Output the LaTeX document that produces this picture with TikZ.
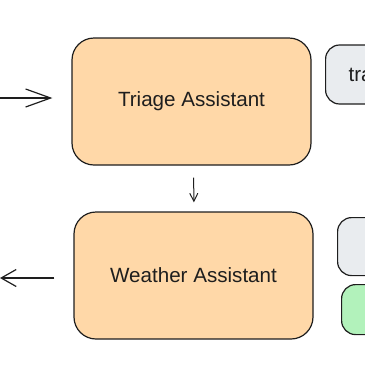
\documentclass[tikz,border=0pt]{standalone}
\usepackage{fontspec}
\setmainfont{Liberation Sans}
\usetikzlibrary{arrows.meta}

\definecolor{ink}{HTML}{1E1E1E}
\definecolor{agentfill}{HTML}{FFD8A8}
\definecolor{toolfill}{HTML}{E9ECEF}
\definecolor{greenfill}{HTML}{B2F2BB}

\begin{document}
\begin{tikzpicture}[x=1pt,y=-1pt,
agent/.style={draw=ink,fill=agentfill,line width=1.2pt,rounded corners=22pt,minimum width=239pt,minimum height=127pt,font=\fontsize{20.6}{24}\selectfont,text=ink},
tool/.style={draw=ink,fill=toolfill,line width=1.2pt,rounded corners=14pt,font=\fontsize{20.6}{24}\selectfont,text=ink},
arrow/.style={-{Straight Barb[length=25pt,width=18pt]},draw=ink,line width=1.2pt},
smallarrow/.style={-{Straight Barb[length=8pt,width=8pt]},draw=ink,line width=1pt} ]

\clip (0,0) rectangle (365,365);

\node[agent] (triage) at (191.5,101.5) {Triage Assistant};

\node[agent] (weather) at (193.5,275.5) {Weather Assistant};

\node[tool,anchor=west,minimum height=59pt,text width=60pt,align=left,inner xsep=23pt] (transfer) at (325,74.5) {tra};

\node[tool,anchor=north west,minimum width=90pt,minimum height=58pt] (toolb) at (337,217) {};

\node[tool,anchor=north west,fill=greenfill,minimum width=90pt,minimum height=50pt] (toolc) at (341,284) {};

\coordinate (in) at (0,98);

\coordinate (out) at (0,278);

\draw[arrow] (in) -- (in -| triage.west) [shorten >=19pt];

\draw[arrow,-{Straight Barb[length=15pt,width=17pt]},shorten <=19pt] (out -| weather.west) -- (out);

\draw[smallarrow,shorten <=12pt,shorten >=9pt] ([xshift=2pt]triage.south) -- ([xshift=0.5pt]weather.north);

\end{tikzpicture}
\end{document}
